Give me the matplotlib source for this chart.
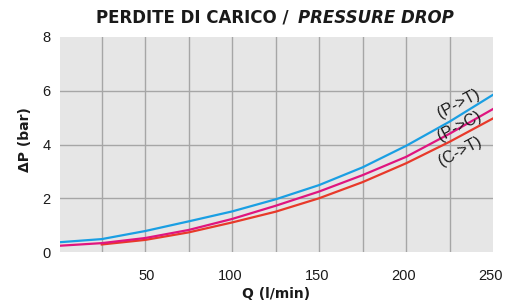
import matplotlib
matplotlib.use("Agg")
import matplotlib.pyplot as plt
from matplotlib.transforms import ScaledTranslation

# Data
q_pt = [0, 25, 50, 75, 100, 125, 150, 175, 200, 225, 250]
dp_pt = [0.36, 0.48, 0.78, 1.14, 1.51, 1.96, 2.49, 3.15, 3.95, 4.85, 5.85]
q_pc = [0, 25, 50, 75, 100, 125, 150, 175, 200, 225, 250]
dp_pc = [0.23, 0.33, 0.52, 0.82, 1.23, 1.72, 2.25, 2.86, 3.54, 4.40, 5.32]
q_ct = [25, 50, 75, 100, 125, 150, 175, 200, 225, 250]
dp_ct = [0.28, 0.45, 0.73, 1.10, 1.50, 2.00, 2.60, 3.30, 4.10, 4.97]

x_ticks = [50, 100, 150, 200, 250]
y_ticks = [0, 2, 4, 6, 8]
series_labels = ["(P->T)", "(P->C)", "(C->T)"]

W, H = 513, 302
fig = plt.figure(figsize=(W / 100, H / 100), dpi=100)
ax = fig.add_axes([60 / W, 1 - 252 / H, (493 - 60) / W, (252 - 37) / H])
ax.set_facecolor("#e6e6e6")
for s in ax.spines.values():
    s.set_visible(False)

ax.set_xlim(1, 250)
ax.set_ylim(0, 8)

for xv in range(25, 250, 25):
    ax.axvline(xv, color="#a6a6a6", lw=1.0, zorder=1)
for yv in [2, 4, 6]:
    ax.axhline(yv, color="#a6a6a6", lw=1.0, zorder=1)

ax.plot(q_pt, dp_pt, color="#1a9fe3", lw=1.6, zorder=3)
ax.plot(q_pc, dp_pc, color="#e0157f", lw=1.6, zorder=3)
ax.plot(q_ct, dp_ct, color="#e8392a", lw=1.6, zorder=2)

ax.set_xticks(x_ticks)
ax.set_yticks(y_ticks)
ax.set_xticklabels([str(v) for v in x_ticks], fontfamily="Liberation Sans", fontsize=10.5)
ax.set_yticklabels([str(v) for v in y_ticks], fontfamily="Liberation Sans", fontsize=10.5)
ax.tick_params(length=0, colors="#1a1a1a")
ax.tick_params(axis="x", pad=12)
ax.tick_params(axis="y", pad=7)
off = ScaledTranslation(0.10, 0, fig.dpi_scale_trans)
for lab in ax.get_xticklabels():
    lab.set_horizontalalignment("right")
    lab.set_transform(lab.get_transform() + off)

fig.text(25 / W, 1 - 140 / H, "ΔP (bar)", rotation=90, ha="center", va="center",
         fontfamily="DejaVu Sans", fontweight="bold", fontsize=10, color="#1a1a1a")
fig.text(276 / W, 1 - 294 / H, "Q (l/min)", ha="center", va="center",
         fontfamily="DejaVu Sans", fontweight="bold", fontsize=10, color="#1a1a1a")

fig.text(96 / W, 1 - 18 / H, "PERDITE DI CARICO /", ha="left", va="center",
         fontfamily="DejaVu Sans", fontweight="bold", fontsize=12, color="#1a1a1a")
fig.text(298 / W, 1 - 18 / H, "PRESSURE DROP", ha="left", va="center",
         fontfamily="DejaVu Sans", fontweight="bold", fontstyle="italic", fontsize=12,
         color="#1a1a1a")

for (px, py), t in zip([(459, 104), (459, 126), (460, 151)], series_labels):
    fig.text(px / W, 1 - py / H, t, rotation=28, ha="center", va="center",
             fontfamily="Liberation Sans", fontsize=11.5, color="#1a1a1a",
             rotation_mode="anchor")

fig.savefig("out.png", dpi=100)
